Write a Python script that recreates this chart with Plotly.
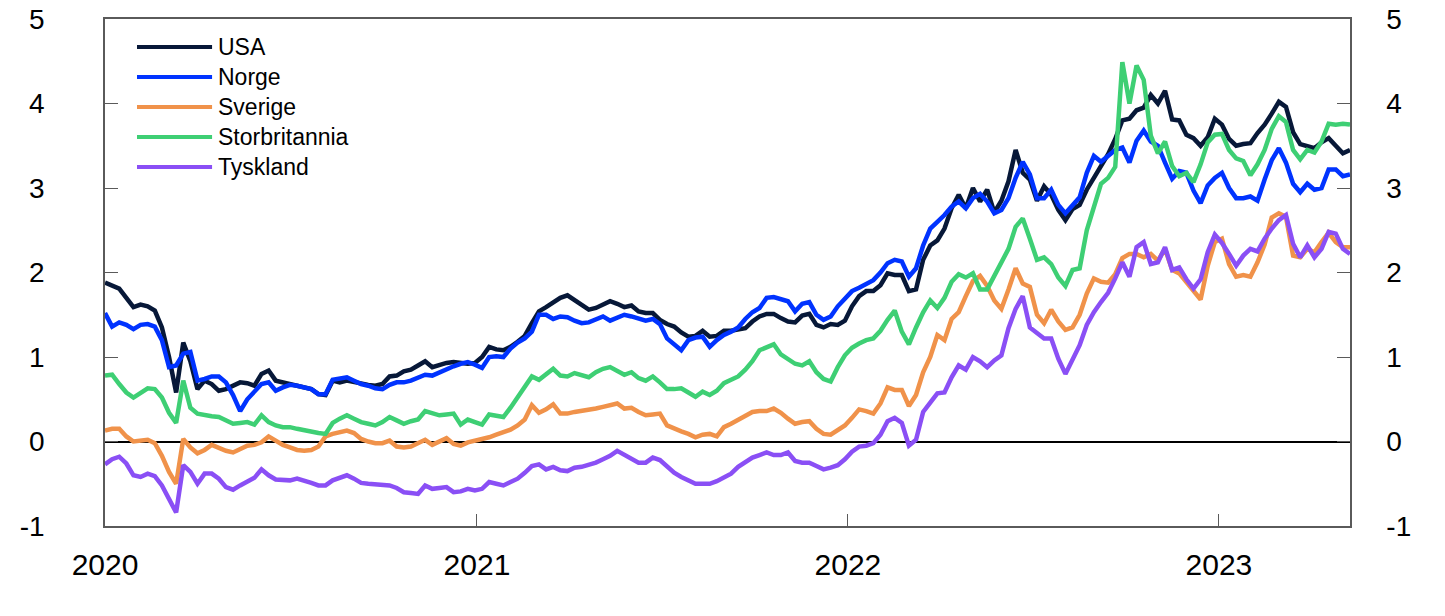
import pandas as pd
import plotly.graph_objects as go

dates = pd.date_range("2020-01-01", periods=176, freq="7D")

series_names = ["USA", "Norge", "Sverige", "Storbritannia", "Tyskland"]
series_colors = ["#071838", "#0033ff", "#f0924a", "#3ecf74", "#8a4ff5"]

usa = [
    1.88, 1.84, 1.81, 1.70, 1.59, 1.62, 1.60, 1.55, 1.35, 1.00,
    0.58, 1.17, 0.95, 0.62, 0.72, 0.68, 0.60, 0.62, 0.66, 0.70,
    0.69, 0.66, 0.80, 0.84, 0.72, 0.70, 0.67, 0.66, 0.64, 0.62,
    0.56, 0.55, 0.72, 0.70, 0.72, 0.70, 0.68, 0.67, 0.66, 0.68,
    0.77, 0.78, 0.83, 0.85, 0.90, 0.95, 0.88, 0.91, 0.93, 0.94,
    0.93, 0.92, 0.93, 1.00, 1.12, 1.09, 1.08, 1.12, 1.18, 1.25,
    1.40, 1.54, 1.59, 1.65, 1.70, 1.73, 1.67, 1.62, 1.56, 1.58,
    1.62, 1.66, 1.63, 1.59, 1.61, 1.54, 1.52, 1.52, 1.44, 1.39,
    1.36, 1.29, 1.24, 1.25, 1.31, 1.24, 1.25, 1.31, 1.31, 1.33,
    1.34, 1.42, 1.48, 1.51, 1.51, 1.46, 1.42, 1.41, 1.49, 1.51,
    1.38, 1.35, 1.39, 1.38, 1.43, 1.60, 1.72, 1.78, 1.78, 1.85,
    1.99, 1.97, 1.97, 1.78, 1.80, 2.15, 2.32, 2.38, 2.52, 2.76,
    2.92, 2.76, 3.00, 2.84, 2.98, 2.71, 2.85, 3.08, 3.45, 3.18,
    3.10, 2.85, 3.02, 2.92, 2.74, 2.62, 2.75, 2.80, 2.98, 3.12,
    3.25, 3.40, 3.58, 3.80, 3.82, 3.92, 3.95, 4.10, 4.00, 4.15,
    3.81, 3.80, 3.63, 3.59, 3.50, 3.60, 3.82, 3.75, 3.58, 3.50,
    3.52, 3.53, 3.65, 3.75, 3.88, 4.02, 3.96, 3.66, 3.52, 3.50,
    3.47, 3.54, 3.59, 3.50, 3.41, 3.45,
]

norge = [
    1.52, 1.36, 1.41, 1.38, 1.33, 1.38, 1.39, 1.36, 1.20, 0.88,
    0.90, 1.04, 1.06, 0.72, 0.74, 0.77, 0.77, 0.70, 0.55, 0.36,
    0.50, 0.60, 0.68, 0.70, 0.60, 0.64, 0.67, 0.66, 0.64, 0.62,
    0.56, 0.56, 0.73, 0.75, 0.76, 0.72, 0.68, 0.66, 0.63, 0.62,
    0.67, 0.70, 0.70, 0.72, 0.75, 0.79, 0.78, 0.82, 0.86, 0.89,
    0.92, 0.94, 0.91, 0.87, 1.00, 1.01, 1.00, 1.10, 1.17, 1.22,
    1.30, 1.50, 1.50, 1.45, 1.48, 1.47, 1.43, 1.40, 1.41, 1.44,
    1.48, 1.43, 1.47, 1.50, 1.48, 1.46, 1.43, 1.45, 1.39, 1.22,
    1.15, 1.08, 1.20, 1.23, 1.24, 1.12, 1.20, 1.26, 1.30, 1.35,
    1.45, 1.53, 1.58, 1.70, 1.71, 1.69, 1.66, 1.54, 1.63, 1.65,
    1.50, 1.44, 1.48, 1.60, 1.70, 1.78, 1.82, 1.86, 1.91, 2.00,
    2.11, 2.15, 2.13, 1.95, 2.05, 2.32, 2.52, 2.60, 2.68, 2.78,
    2.84, 2.76, 2.88, 2.93, 2.84, 2.70, 2.74, 2.88, 3.12, 3.31,
    3.16, 2.88, 2.88, 2.98, 2.80, 2.70, 2.80, 2.89, 3.18, 3.38,
    3.31, 3.38, 3.45, 3.48, 3.30, 3.56, 3.68, 3.55, 3.50, 3.30,
    3.11, 3.20, 3.18, 2.97, 2.82, 3.03, 3.12, 3.18, 3.00, 2.88,
    2.88, 2.90, 2.85, 3.10, 3.33, 3.47, 3.30, 3.05, 2.95, 3.05,
    2.98, 3.00, 3.22, 3.22, 3.14, 3.16,
]

sverige = [
    0.13, 0.15, 0.15, 0.06, 0.00, 0.01, 0.02, -0.02, -0.17, -0.36,
    -0.50, 0.03, -0.07, -0.14, -0.10, -0.04, -0.08, -0.11, -0.13, -0.09,
    -0.05, -0.04, -0.01, 0.06, 0.01, -0.04, -0.07, -0.10, -0.11, -0.10,
    -0.06, 0.06, 0.09, 0.11, 0.13, 0.10, 0.03, 0.00, -0.02, -0.02,
    0.01, -0.06, -0.07, -0.06, -0.02, 0.02, -0.04, 0.00, 0.04, -0.03,
    -0.05, -0.01, 0.01, 0.02, 0.05, 0.08, 0.11, 0.14, 0.19, 0.26,
    0.43, 0.34, 0.38, 0.44, 0.33, 0.33, 0.35, 0.36, 0.37, 0.39,
    0.41, 0.43, 0.45, 0.39, 0.40, 0.35, 0.31, 0.32, 0.33, 0.19,
    0.15, 0.12, 0.09, 0.05, 0.08, 0.09, 0.06, 0.17, 0.21, 0.26,
    0.31, 0.35, 0.36, 0.36, 0.39, 0.34, 0.27, 0.21, 0.23, 0.24,
    0.15, 0.09, 0.08, 0.14, 0.19, 0.28, 0.38, 0.36, 0.33, 0.45,
    0.64, 0.61, 0.61, 0.42, 0.55, 0.82, 1.00, 1.26, 1.20, 1.45,
    1.53, 1.72, 1.90, 1.96, 1.84, 1.67, 1.57, 1.80, 2.05, 1.87,
    1.83, 1.50, 1.40, 1.56, 1.42, 1.32, 1.35, 1.50, 1.75, 1.93,
    1.89, 1.88, 1.98, 2.17, 2.22, 2.22, 2.18, 2.22, 2.14, 2.28,
    2.03, 1.99, 1.88, 1.79, 1.68, 2.08, 2.36, 2.40, 2.10, 1.95,
    1.97, 1.95, 2.12, 2.33, 2.65, 2.70, 2.66, 2.20, 2.18, 2.28,
    2.24, 2.36, 2.47, 2.36, 2.30, 2.30,
]

storbritannia = [
    0.78, 0.79, 0.68, 0.58, 0.52, 0.58, 0.63, 0.62, 0.52, 0.34,
    0.22, 0.72, 0.40, 0.33, 0.31, 0.30, 0.29, 0.25, 0.21, 0.22,
    0.23, 0.20, 0.31, 0.23, 0.19, 0.17, 0.17, 0.15, 0.13, 0.11,
    0.10, 0.09, 0.22, 0.27, 0.31, 0.27, 0.23, 0.21, 0.19, 0.23,
    0.29, 0.25, 0.21, 0.24, 0.26, 0.36, 0.33, 0.31, 0.32, 0.33,
    0.20, 0.26, 0.23, 0.20, 0.32, 0.31, 0.29, 0.40, 0.52, 0.64,
    0.77, 0.73, 0.80, 0.86, 0.78, 0.77, 0.81, 0.78, 0.76, 0.82,
    0.86, 0.88, 0.84, 0.79, 0.82, 0.75, 0.72, 0.77, 0.70, 0.62,
    0.62, 0.63, 0.58, 0.53, 0.59, 0.55, 0.60, 0.69, 0.73, 0.77,
    0.85, 0.95, 1.08, 1.12, 1.15, 1.03, 0.98, 0.92, 0.90, 0.95,
    0.82, 0.74, 0.71, 0.88, 1.02, 1.11, 1.16, 1.20, 1.22, 1.31,
    1.44, 1.55, 1.30, 1.15, 1.35, 1.53, 1.67, 1.58, 1.70, 1.89,
    1.98, 1.94, 1.99, 1.80, 1.80, 1.97, 2.12, 2.28, 2.54, 2.64,
    2.40, 2.15, 2.18, 2.10, 1.94, 1.84, 2.03, 2.05, 2.50, 2.78,
    3.05, 3.12, 3.25, 4.49, 4.00, 4.45, 4.28, 3.62, 3.41, 3.55,
    3.26, 3.14, 3.18, 3.07, 3.28, 3.54, 3.63, 3.64, 3.45, 3.35,
    3.32, 3.15, 3.28, 3.45, 3.70, 3.85, 3.78, 3.45, 3.34, 3.45,
    3.42, 3.55, 3.76, 3.75, 3.76, 3.75,
]

tyskland = [
    -0.27, -0.21, -0.18, -0.26, -0.40, -0.42, -0.38, -0.41, -0.52, -0.68,
    -0.84, -0.28, -0.36, -0.50, -0.38, -0.38, -0.44, -0.54, -0.57, -0.52,
    -0.48, -0.43, -0.33, -0.40, -0.45, -0.46, -0.46, -0.44, -0.46, -0.49,
    -0.52, -0.52, -0.46, -0.43, -0.40, -0.44, -0.49, -0.50, -0.51, -0.52,
    -0.52, -0.55, -0.60, -0.61, -0.62, -0.52, -0.56, -0.55, -0.54, -0.60,
    -0.59, -0.56, -0.58, -0.56, -0.48, -0.50, -0.52, -0.48, -0.44, -0.37,
    -0.29, -0.27, -0.33, -0.30, -0.34, -0.35, -0.31, -0.30, -0.28, -0.25,
    -0.21, -0.17, -0.11, -0.16, -0.21, -0.25, -0.25, -0.19, -0.22, -0.30,
    -0.37, -0.42, -0.46, -0.50, -0.50, -0.50, -0.47, -0.42, -0.38, -0.30,
    -0.24, -0.19, -0.16, -0.13, -0.16, -0.16, -0.13, -0.23, -0.25, -0.25,
    -0.29, -0.33, -0.31, -0.28, -0.21, -0.12, -0.06, -0.05, -0.02, 0.08,
    0.24, 0.28, 0.22, -0.05, 0.02, 0.35, 0.46, 0.57, 0.58, 0.76,
    0.90, 0.85, 1.00, 0.95, 0.88, 0.96, 1.02, 1.34, 1.57, 1.72,
    1.35, 1.28, 1.22, 1.22, 0.98, 0.80, 0.98, 1.14, 1.38, 1.53,
    1.65, 1.76, 1.93, 2.12, 1.95, 2.30, 2.36, 2.10, 2.12, 2.30,
    2.03, 2.06, 1.92, 1.81, 1.92, 2.24, 2.45, 2.35, 2.22, 2.08,
    2.20, 2.28, 2.25, 2.40, 2.52, 2.62, 2.68, 2.34, 2.18, 2.32,
    2.18, 2.28, 2.48, 2.46, 2.28, 2.22,
]

series_values = [usa, norge, sverige, storbritannia, tyskland]

y_ticks = [-1, 0, 1, 2, 3, 4, 5]
y_tick_text = ["-1", "0", "1", "2", "3", "4", "5"]
x_start, x_end = "2020-01-01", "2023-05-10"

FONT = "Liberation Sans, Arial, sans-serif"
AXIS_COLOR = "#5a5a5a"

fig = go.Figure()
n = len(series_names)
for i, (name, color, vals) in enumerate(zip(series_names, series_colors, series_values)):
    # the last series sits on the (identical) right-hand axis so that axis is drawn
    fig.add_trace(go.Scatter(
        x=dates, y=vals, name=name, mode="lines",
        line=dict(color=color, width=4.5), showlegend=False,
        yaxis="y2" if i == n - 1 else "y",
    ))

# Custom legend (long line samples, as in the original)
leg_x0, leg_x1, leg_tx = 0.0257, 0.0860, 0.0895
leg_top, leg_step = 0.9448, 0.0592
for i, (name, color) in enumerate(zip(series_names, series_colors)):
    yy = leg_top - i * leg_step
    fig.add_shape(type="line", xref="paper", yref="paper",
                  x0=leg_x0, x1=leg_x1, y0=yy, y1=yy,
                  line=dict(color=color, width=4))
    fig.add_annotation(xref="paper", yref="paper", x=leg_tx, y=yy,
                       text=name, showarrow=False, xanchor="left",
                       yanchor="middle", font=dict(family=FONT, size=23, color="black"))

fig.update_layout(
    width=1445, height=616,
    margin=dict(l=105, r=95, t=19, b=90, autoexpand=False),
    paper_bgcolor="white", plot_bgcolor="white",
    font=dict(family=FONT, color="black"),
    xaxis=dict(
        type="date", range=[x_start, x_end],
        tick0="2020-01-01", dtick="M12", tickformat="%Y",
        ticks="inside", ticklen=12, tickcolor=AXIS_COLOR, tickwidth=1,
        showline=True, linecolor=AXIS_COLOR, linewidth=1.5, mirror=True,
        showgrid=False, zeroline=False, automargin=False,
        tickfont=dict(family=FONT, size=30, color="black"),
        ticklabelstandoff=11, ticklabeloverflow="allow",
    ),
    yaxis=dict(
        range=[-1, 5], tickvals=y_ticks, ticktext=y_tick_text,
        ticks="inside", ticklen=13, tickcolor=AXIS_COLOR, tickwidth=1,
        showline=True, linecolor=AXIS_COLOR, linewidth=1.5,
        showgrid=False, automargin=False,
        zeroline=True, zerolinecolor="black", zerolinewidth=1.5,
        tickfont=dict(family=FONT, size=28, color="black"),
        ticklabelstandoff=53, ticklabeloverflow="allow",
    ),
    yaxis2=dict(
        range=[-1, 5], tickvals=y_ticks, ticktext=y_tick_text,
        overlaying="y", side="right",
        ticks="inside", ticklen=13, tickcolor=AXIS_COLOR, tickwidth=1,
        showline=True, linecolor=AXIS_COLOR, linewidth=1.5,
        showgrid=False, zeroline=False, automargin=False,
        tickfont=dict(family=FONT, size=28, color="black"),
        ticklabelstandoff=29, ticklabeloverflow="allow",
    ),
)

# remove the browser's default 8 px page margin so the figure fills the window
fig.write_html(
    "out.html",
    config={"displayModeBar": False},
    post_script="document.body.style.margin='0';",
)
